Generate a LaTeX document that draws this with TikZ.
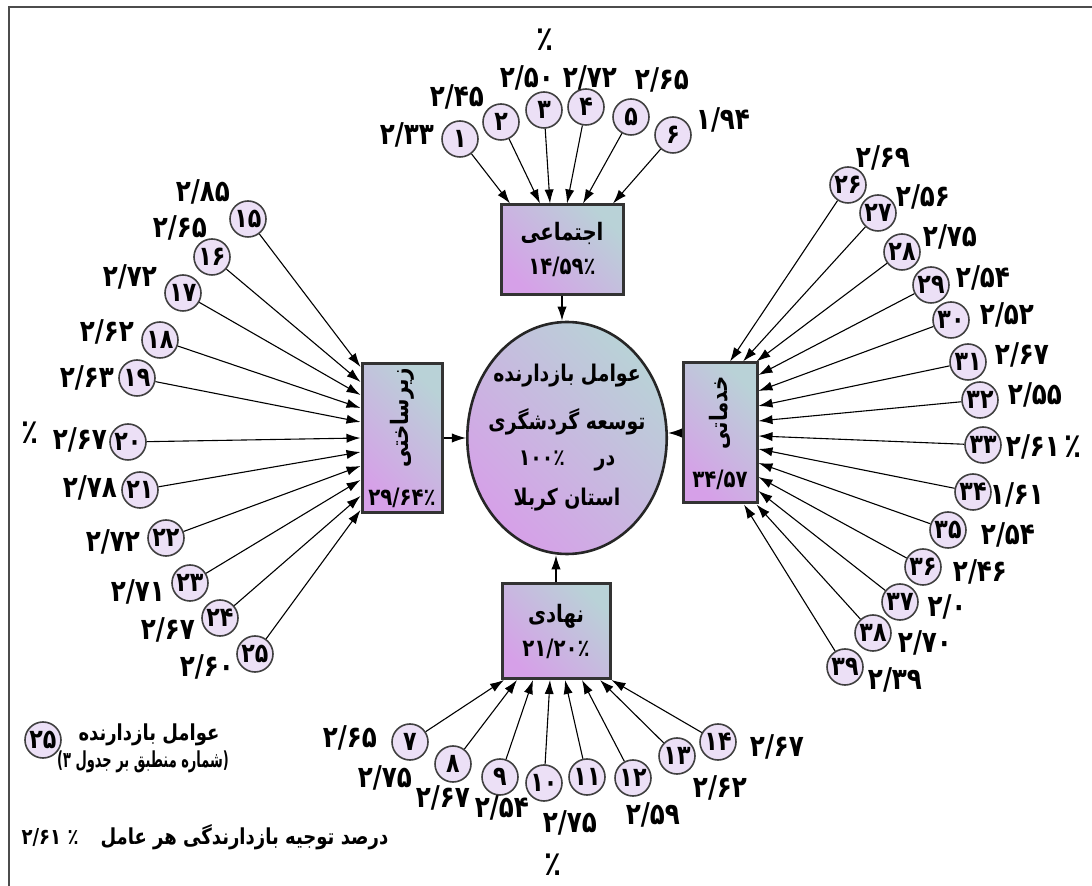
\documentclass[tikz,border=0pt]{standalone}
\usepackage{fontspec}
\usetikzlibrary{arrows.meta,calc,shapes.geometric}
\TeXXeTstate=1
\newfontfamily\fa[Script=Arabic,FakeStretch=0.82]{DejaVu Sans}
\definecolor{boxviolet}{HTML}{D6A0E8}
\definecolor{boxblue}{HTML}{B9D2D7}
\definecolor{factfill}{HTML}{ECE0F6}

\begin{document}
\begin{tikzpicture}[x=0.5pt,y=-0.5pt,
    factor/.style={circle,draw=black!75,line width=0.8pt,fill=factfill,minimum size=18pt,inner sep=0pt,font=\fa\bfseries\fontsize{13.5}{13.5}\selectfont},
    value/.style={inner sep=1pt,font=\fa\bfseries\fontsize{15}{16}\selectfont},
    note/.style={inner sep=0pt,font=\fa\bfseries\fontsize{11}{12}\selectfont},
    group/.style={rectangle,draw=black!80,line width=1.5pt,left color=boxviolet,right color=boxblue,shading angle=135,align=center,inner sep=2pt,font=\fa\bfseries\fontsize{12}{18}\selectfont},
    arr/.style={-{Latex[length=7pt,width=4.6pt]},line width=0.55pt}]
    \useasboundingbox (0,0) rectangle (1092,886);
    % frame
    \draw[line width=1.2pt,black!70] (9,886) -- (9,7) -- (1092,7);

    % centre and the four groups
    \node[ellipse,draw=black!85,line width=1.3pt,left color=boxviolet,right color=boxblue,shading angle=135,
          minimum width=98pt,minimum height=116pt,align=center,inner xsep=-4pt,inner ysep=1pt,
          font=\fa\bfseries\fontsize{11.5}{18}\selectfont] (main) at (567,438)
          {\beginR عوامل بازدارنده\endR\\[6pt]\beginR توسعه گردشگری\endR\\\beginR در\hspace{1.3em}۱۰۰٪\endR\hspace*{14pt}\\[2pt]\beginR استان کربلا\endR};
    \node[group,minimum width=61pt,minimum height=45pt] (soc) at (562,250) {\beginR اجتماعی\endR\\[-1pt]۱۴/۵۹٪};
    \node[group,minimum width=54pt,minimum height=47.5pt] (inst) at (556,631) {\beginR نهادی\endR\\[-1pt]۲۱/۲۰٪};
    \node[group,minimum width=40pt,minimum height=73.5pt] (infra) at (402,438) {\rotatebox{90}{\beginR زیرساختی\endR}\\[1pt]۲۹/۶۴٪};
    \node[group,minimum width=37pt,minimum height=70pt] (serv) at (720,433) {\rotatebox{90}{\beginR خدماتی\endR}\\[1pt]۳۴/۵۷};

    % factors
    \node[factor] (f1) at (460,139) {۱};
    \node[factor] (f2) at (501,122) {۲};
    \node[factor] (f3) at (544,110) {۳};
    \node[factor] (f4) at (586,107) {۴};
    \node[factor] (f5) at (631,117) {۵};
    \node[factor] (f6) at (673,135) {۶};
    \node[factor] (f7) at (410,742) {۷};
    \node[factor] (f8) at (453,764) {۸};
    \node[factor] (f9) at (500,777) {۹};
    \node[factor] (f10) at (544,783) {۱۰};
    \node[factor] (f11) at (587,777) {۱۱};
    \node[factor] (f12) at (633,778) {۱۲};
    \node[factor] (f13) at (677,756) {۱۳};
    \node[factor] (f14) at (718,742) {۱۴};
    \node[factor] (f15) at (248,219) {۱۵};
    \node[factor] (f16) at (212,257) {۱۶};
    \node[factor] (f17) at (183,293) {۱۷};
    \node[factor] (f18) at (160,340) {۱۸};
    \node[factor] (f19) at (137,378) {۱۹};
    \node[factor] (f20) at (128,442) {۲۰};
    \node[factor] (f21) at (140,490) {۲۱};
    \node[factor] (f22) at (166,538) {۲۲};
    \node[factor] (f23) at (190,583) {۲۳};
    \node[factor] (f24) at (220,618) {۲۴};
    \node[factor] (f25) at (255,654) {۲۵};
    \node[factor] (f26) at (848,185) {۲۶};
    \node[factor] (f27) at (878,213) {۲۷};
    \node[factor] (f28) at (902,252) {۲۸};
    \node[factor] (f29) at (931,285) {۲۹};
    \node[factor] (f30) at (951,320) {۳۰};
    \node[factor] (f31) at (968,362) {۳۱};
    \node[factor] (f32) at (980,400) {۳۲};
    \node[factor] (f33) at (983,445) {۳۳};
    \node[factor] (f34) at (973,492) {۳۴};
    \node[factor] (f35) at (948,530) {۳۵};
    \node[factor] (f36) at (923,567) {۳۶};
    \node[factor] (f37) at (900,602) {۳۷};
    \node[factor] (f38) at (873,633) {۳۸};
    \node[factor] (f39) at (845,667) {۳۹};

    % values
    \node[value] (v1) at (407,135) {۲/۳۳};
    \node[value] (v2) at (457,97) {۲/۴۵};
    \node[value] (v3) at (527,78) {۲/۵۰};
    \node[value] (v4) at (590,78) {۲/۷۲};
    \node[value] (v5) at (662,80) {۲/۶۵};
    \node[value] (v6) at (723,120) {۱/۹۴};
    \node[value] (v7) at (350,738) {۲/۶۵};
    \node[value] (v8) at (385,778) {۲/۷۵};
    \node[value] (v9) at (443,798) {۲/۶۷};
    \node[value] (v10) at (502,808) {۲/۵۴};
    \node[value] (v11) at (570,823) {۲/۷۵};
    \node[value] (v12) at (653,815) {۲/۵۹};
    \node[value] (v13) at (720,788) {۲/۶۲};
    \node[value] (v14) at (777,747) {۲/۶۷};
    \node[value] (v15) at (203,192) {۲/۸۵};
    \node[value] (v16) at (180,228) {۲/۶۵};
    \node[value] (v17) at (130,277) {۲/۷۲};
    \node[value] (v18) at (107,332) {۲/۶۲};
    \node[value] (v19) at (87,378) {۲/۶۳};
    \node[value] (v20) at (80,440) {۲/۶۷};
    \node[value] (v21) at (90,488) {۲/۷۸};
    \node[value] (v22) at (113,542) {۲/۷۲};
    \node[value] (v23) at (138,592) {۲/۷۱};
    \node[value] (v24) at (168,630) {۲/۶۷};
    \node[value] (v25) at (207,667) {۲/۶۰};
    \node[value] (v26) at (883,158) {۲/۶۹};
    \node[value] (v27) at (923,197) {۲/۵۶};
    \node[value] (v28) at (950,237) {۲/۷۵};
    \node[value] (v29) at (983,278) {۲/۵۴};
    \node[value] (v30) at (1007,315) {۲/۵۲};
    \node[value] (v31) at (1022,355) {۲/۶۷};
    \node[value] (v32) at (1035,395) {۲/۵۵};
    \node[value] (v33) at (1033,447) {۲/۶۱};
    \node[value] (v34) at (1017,495) {۱/۶۱};
    \node[value] (v35) at (1008,535) {۲/۵۴};
    \node[value] (v36) at (980,572) {۲/۴۶};
    \node[value] (v37) at (947,607) {۲/۰};
    \node[value] (v38) at (925,643) {۲/۷۰};
    \node[value] (v39) at (895,680) {۲/۳۹};
    \node[value,font=\fa\bfseries\fontsize{17}{17}\selectfont] (pct_top) at (545,40) {٪};
    \node[value,font=\fa\bfseries\fontsize{17}{17}\selectfont] (pct_bottom) at (553,865) {٪};
    \node[value,font=\fa\bfseries\fontsize{17}{17}\selectfont] (pct_left) at (30,433) {٪};
    \node[value,font=\fa\bfseries\fontsize{17}{17}\selectfont] (pct_right) at (1073,447) {٪};

    % legend
    \node[factor] (key) at (43,740) {۲۵};
    \node[note] (key_name) at (149,735) {\beginR عوامل بازدارنده\endR};
    \node[note] (key_table) at (143,762) {\scalebox{0.72}[1]{)\beginR شماره منطبق بر جدول ۳\endR(}};
    \node[note] (key_value) at (205,837) {۲/۶۱\ ٪\quad\beginR درصد توجیه بازدارندگی هر عامل\endR};

    % connectors
    \path[arr]
        (soc.south) edge (soc.south |- main.north)
        (inst.north) edge (inst.north |- main.south)
        (infra) edge (main)
        (serv.west) edge (serv.west -| main.east)
        (f1) edge ($(soc.north)+(-52,0)$)
        (f2) edge ($(soc.north)+(-22,0)$)
        (f3) edge ($(soc.north)+(-12,0)$)
        (f4) edge ($(soc.north)+(5,0)$)
        (f5) edge ($(soc.north)+(21,0)$)
        (f6) edge ($(soc.north)+(51,0)$)
        (f7) edge ($(inst.south)+(-52,0)$)
        (f8) edge ($(inst.south)+(-39,0)$)
        (f9) edge ($(inst.south)+(-23,0)$)
        (f10) edge ($(inst.south)+(-6,0)$)
        (f11) edge ($(inst.south)+(9,0)$)
        (f12) edge ($(inst.south)+(26,0)$)
        (f13) edge ($(inst.south)+(44,0)$)
        (f14) edge (inst.south east)
        (f15) edge ($(infra.west)+(0,-71)$)
        (f16) edge ($(infra.west)+(0,-56)$)
        (f17) edge ($(infra.west)+(0,-43)$)
        (f18) edge ($(infra.west)+(0,-30)$)
        (f19) edge ($(infra.west)+(0,-16)$)
        (f20) edge ($(infra.west)+(0,0)$)
        (f21) edge ($(infra.west)+(0,14)$)
        (f22) edge ($(infra.west)+(0,28)$)
        (f23) edge ($(infra.west)+(0,42)$)
        (f24) edge ($(infra.west)+(0,58)$)
        (f25) edge ($(infra.west)+(0,72)$)
        (f26) edge ($(serv.north)+(10,0)$)
        (f27) edge ($(serv.north)+(23,0)$)
        (f28) edge ($(serv.north east)+(-2,0)$)
        (f29) edge ($(serv.east)+(0,-58)$)
        (f30) edge ($(serv.east)+(0,-42)$)
        (f31) edge ($(serv.east)+(0,-27)$)
        (f32) edge ($(serv.east)+(0,-12)$)
        (f33) edge ($(serv.east)+(0,3)$)
        (f34) edge ($(serv.east)+(0,16)$)
        (f35) edge ($(serv.east)+(0,30)$)
        (f36) edge ($(serv.east)+(0,44)$)
        (f37) edge ($(serv.east)+(0,58)$)
        (f38) edge ($(serv.south east)+(-2,0)$)
        (f39) edge ($(serv.south)+(24,0)$);
\end{tikzpicture}
\end{document}
